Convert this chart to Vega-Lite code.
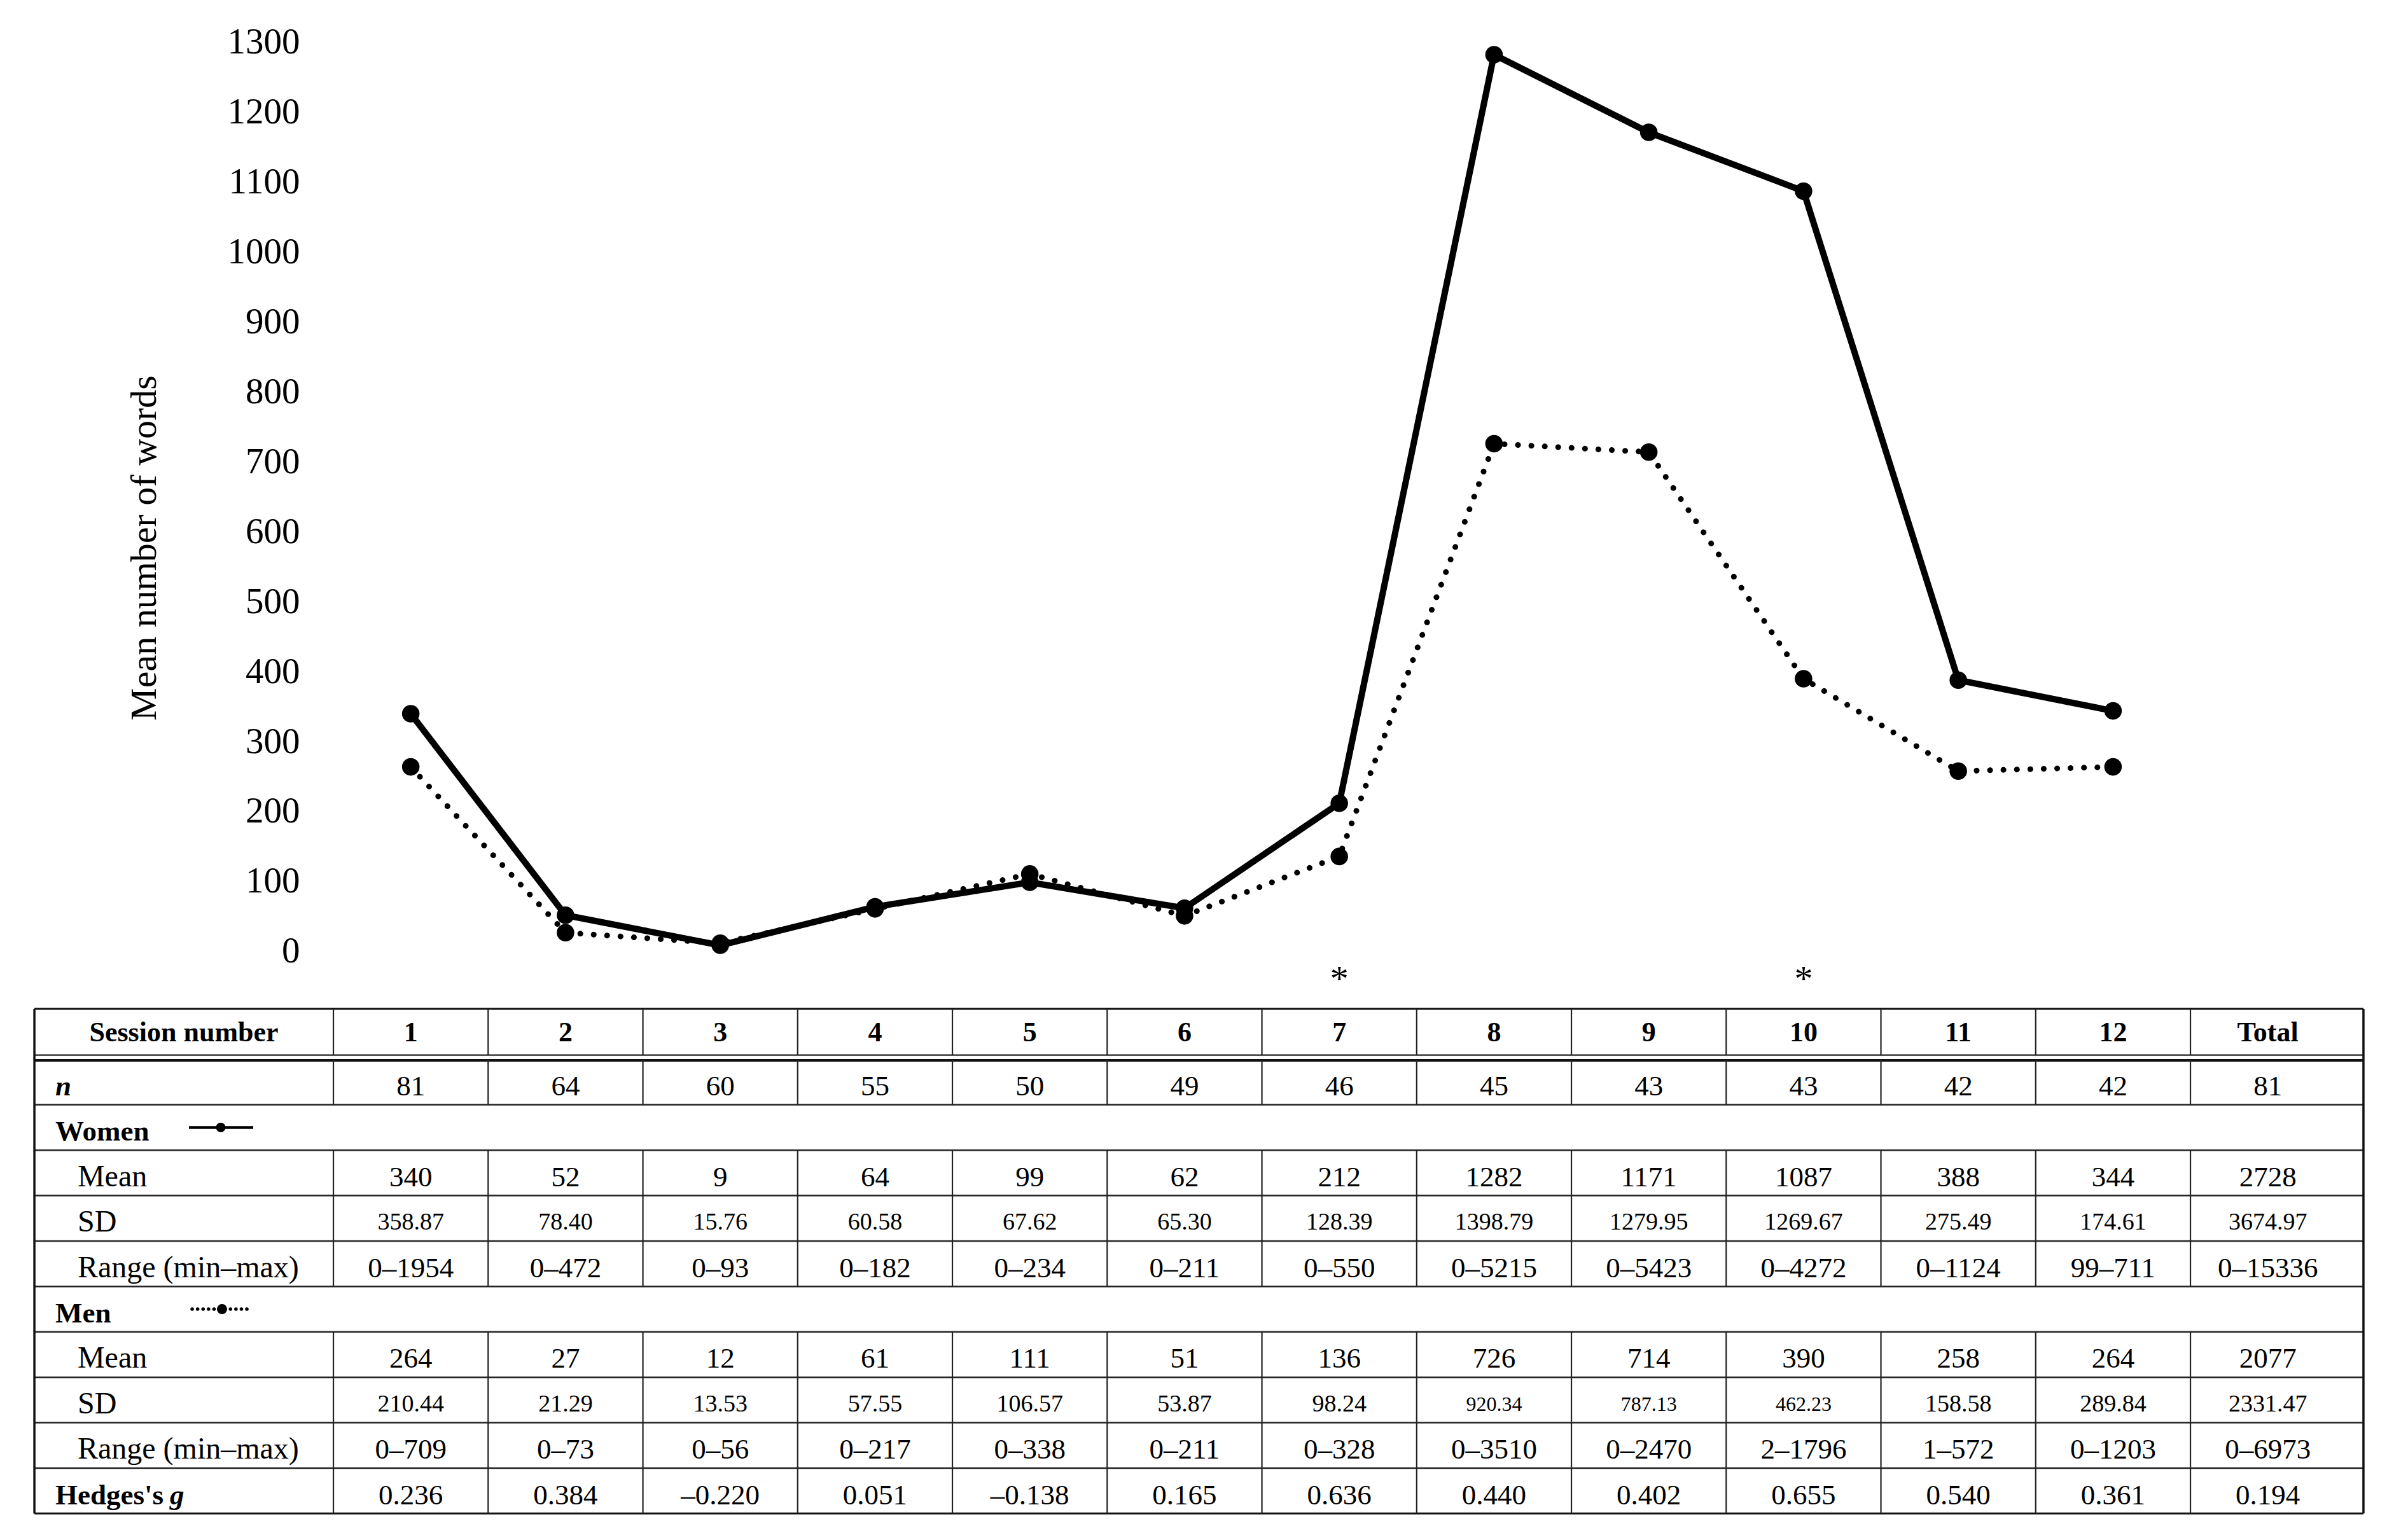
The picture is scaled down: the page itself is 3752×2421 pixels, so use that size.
{
  "$schema": "https://vega.github.io/schema/vega-lite/v6.json",
  "width": 3752,
  "height": 2421,
  "autosize": "none",
  "padding": 0,
  "background": "white",
  "config": {"view": {"stroke": null}, "font": "Liberation Serif"},
  "datasets": {
    "means": [
      {"session": 1, "sex": "Women", "mean": 340}, {"session": 2, "sex": "Women", "mean": 52}, {"session": 3, "sex": "Women", "mean": 9},
      {"session": 4, "sex": "Women", "mean": 64}, {"session": 5, "sex": "Women", "mean": 99}, {"session": 6, "sex": "Women", "mean": 62},
      {"session": 7, "sex": "Women", "mean": 212}, {"session": 8, "sex": "Women", "mean": 1282}, {"session": 9, "sex": "Women", "mean": 1171},
      {"session": 10, "sex": "Women", "mean": 1087}, {"session": 11, "sex": "Women", "mean": 388}, {"session": 12, "sex": "Women", "mean": 344},
      {"session": 1, "sex": "Men", "mean": 264}, {"session": 2, "sex": "Men", "mean": 27}, {"session": 3, "sex": "Men", "mean": 12},
      {"session": 4, "sex": "Men", "mean": 61}, {"session": 5, "sex": "Men", "mean": 111}, {"session": 6, "sex": "Men", "mean": 51},
      {"session": 7, "sex": "Men", "mean": 136}, {"session": 8, "sex": "Men", "mean": 726}, {"session": 9, "sex": "Men", "mean": 714},
      {"session": 10, "sex": "Men", "mean": 390}, {"session": 11, "sex": "Men", "mean": 258}, {"session": 12, "sex": "Men", "mean": 264}
    ],
    "stars": [{"session": 7, "label": "*"}, {"session": 10, "label": "*"}],
    "header": [
      {"c": 1, "t": "1"}, {"c": 2, "t": "2"}, {"c": 3, "t": "3"}, {"c": 4, "t": "4"}, {"c": 5, "t": "5"}, {"c": 6, "t": "6"},
      {"c": 7, "t": "7"}, {"c": 8, "t": "8"}, {"c": 9, "t": "9"}, {"c": 10, "t": "10"}, {"c": 11, "t": "11"}, {"c": 12, "t": "12"},
      {"c": 13, "t": "Total"}
    ],
    "labels": [
      {"r": 0, "t": "Session number"}, {"r": 1, "t": "n"}, {"r": 2, "t": "Women"}, {"r": 3, "t": "Mean"},
      {"r": 4, "t": "SD"}, {"r": 5, "t": "Range (min–max)"}, {"r": 6, "t": "Men"}, {"r": 7, "t": "Mean"},
      {"r": 8, "t": "SD"}, {"r": 9, "t": "Range (min–max)"}, {"r": 10, "t": "Hedges's", "sym": "g"}
    ],
    "key": [{"sex": "Women", "r": 2}, {"sex": "Men", "r": 6}],
    "cells": [
      {"r": 1, "c": 1, "t": "81"}, {"r": 1, "c": 2, "t": "64"}, {"r": 1, "c": 3, "t": "60"}, {"r": 1, "c": 4, "t": "55"}, {"r": 1, "c": 5, "t": "50"}, {"r": 1, "c": 6, "t": "49"}, {"r": 1, "c": 7, "t": "46"}, {"r": 1, "c": 8, "t": "45"}, {"r": 1, "c": 9, "t": "43"}, {"r": 1, "c": 10, "t": "43"}, {"r": 1, "c": 11, "t": "42"}, {"r": 1, "c": 12, "t": "42"}, {"r": 1, "c": 13, "t": "81"},
      {"r": 3, "c": 1, "t": "340"}, {"r": 3, "c": 2, "t": "52"}, {"r": 3, "c": 3, "t": "9"}, {"r": 3, "c": 4, "t": "64"}, {"r": 3, "c": 5, "t": "99"}, {"r": 3, "c": 6, "t": "62"}, {"r": 3, "c": 7, "t": "212"}, {"r": 3, "c": 8, "t": "1282"}, {"r": 3, "c": 9, "t": "1171"}, {"r": 3, "c": 10, "t": "1087"}, {"r": 3, "c": 11, "t": "388"}, {"r": 3, "c": 12, "t": "344"}, {"r": 3, "c": 13, "t": "2728"},
      {"r": 4, "c": 1, "t": "358.87"}, {"r": 4, "c": 2, "t": "78.40"}, {"r": 4, "c": 3, "t": "15.76"}, {"r": 4, "c": 4, "t": "60.58"}, {"r": 4, "c": 5, "t": "67.62"}, {"r": 4, "c": 6, "t": "65.30"}, {"r": 4, "c": 7, "t": "128.39"}, {"r": 4, "c": 8, "t": "1398.79"}, {"r": 4, "c": 9, "t": "1279.95"}, {"r": 4, "c": 10, "t": "1269.67"}, {"r": 4, "c": 11, "t": "275.49"}, {"r": 4, "c": 12, "t": "174.61"}, {"r": 4, "c": 13, "t": "3674.97"},
      {"r": 5, "c": 1, "t": "0–1954"}, {"r": 5, "c": 2, "t": "0–472"}, {"r": 5, "c": 3, "t": "0–93"}, {"r": 5, "c": 4, "t": "0–182"}, {"r": 5, "c": 5, "t": "0–234"}, {"r": 5, "c": 6, "t": "0–211"}, {"r": 5, "c": 7, "t": "0–550"}, {"r": 5, "c": 8, "t": "0–5215"}, {"r": 5, "c": 9, "t": "0–5423"}, {"r": 5, "c": 10, "t": "0–4272"}, {"r": 5, "c": 11, "t": "0–1124"}, {"r": 5, "c": 12, "t": "99–711"}, {"r": 5, "c": 13, "t": "0–15336"},
      {"r": 7, "c": 1, "t": "264"}, {"r": 7, "c": 2, "t": "27"}, {"r": 7, "c": 3, "t": "12"}, {"r": 7, "c": 4, "t": "61"}, {"r": 7, "c": 5, "t": "111"}, {"r": 7, "c": 6, "t": "51"}, {"r": 7, "c": 7, "t": "136"}, {"r": 7, "c": 8, "t": "726"}, {"r": 7, "c": 9, "t": "714"}, {"r": 7, "c": 10, "t": "390"}, {"r": 7, "c": 11, "t": "258"}, {"r": 7, "c": 12, "t": "264"}, {"r": 7, "c": 13, "t": "2077"},
      {"r": 8, "c": 1, "t": "210.44"}, {"r": 8, "c": 2, "t": "21.29"}, {"r": 8, "c": 3, "t": "13.53"}, {"r": 8, "c": 4, "t": "57.55"}, {"r": 8, "c": 5, "t": "106.57"}, {"r": 8, "c": 6, "t": "53.87"}, {"r": 8, "c": 7, "t": "98.24"}, {"r": 8, "c": 8, "t": "920.34"}, {"r": 8, "c": 9, "t": "787.13"}, {"r": 8, "c": 10, "t": "462.23"}, {"r": 8, "c": 11, "t": "158.58"}, {"r": 8, "c": 12, "t": "289.84"}, {"r": 8, "c": 13, "t": "2331.47"},
      {"r": 9, "c": 1, "t": "0–709"}, {"r": 9, "c": 2, "t": "0–73"}, {"r": 9, "c": 3, "t": "0–56"}, {"r": 9, "c": 4, "t": "0–217"}, {"r": 9, "c": 5, "t": "0–338"}, {"r": 9, "c": 6, "t": "0–211"}, {"r": 9, "c": 7, "t": "0–328"}, {"r": 9, "c": 8, "t": "0–3510"}, {"r": 9, "c": 9, "t": "0–2470"}, {"r": 9, "c": 10, "t": "2–1796"}, {"r": 9, "c": 11, "t": "1–572"}, {"r": 9, "c": 12, "t": "0–1203"}, {"r": 9, "c": 13, "t": "0–6973"},
      {"r": 10, "c": 1, "t": "0.236"}, {"r": 10, "c": 2, "t": "0.384"}, {"r": 10, "c": 3, "t": "–0.220"}, {"r": 10, "c": 4, "t": "0.051"}, {"r": 10, "c": 5, "t": "–0.138"}, {"r": 10, "c": 6, "t": "0.165"}, {"r": 10, "c": 7, "t": "0.636"}, {"r": 10, "c": 8, "t": "0.440"}, {"r": 10, "c": 9, "t": "0.402"}, {"r": 10, "c": 10, "t": "0.655"}, {"r": 10, "c": 11, "t": "0.540"}, {"r": 10, "c": 12, "t": "0.361"}, {"r": 10, "c": 13, "t": "0.194"}
    ]
  },
  "layer": [
    {
      "layer": [
        {
          "data": {"name": "means"},
          "transform": [{"filter": "datum.sex === 'Women'"}],
          "mark": {"type": "line", "color": "black", "strokeWidth": 10},
          "encoding": {
            "x": {"field": "session", "type": "quantitative", "scale": {"domain": [-1.6543, 13.7702], "nice": false, "zero": false}, "axis": null},
            "y": {"field": "mean", "type": "quantitative", "scale": {"domain": [-841.1, 1360.2], "nice": false, "zero": false},
              "axis": {"values": [0, 100, 200, 300, 400, 500, 600, 700, 800, 900, 1000, 1100, 1200, 1300], "format": "d", "domain": false, "ticks": false, "tickSize": 0, "grid": false,
                "labelPadding": 0, "offset": -471, "labelFont": "Liberation Serif", "labelFontSize": 57, "labelColor": "black", "labelAlign": "right", "labelBaseline": "middle",
                "title": "Mean number of words", "titleFont": "Liberation Serif", "titleFontSize": 58, "titleFontWeight": "normal", "titleColor": "black",
                "titleAngle": -90, "titleX": -244, "titleY": 861, "titleAlign": "center", "titleBaseline": "middle"}}
          }
        },
        {
          "data": {"name": "means"},
          "transform": [{"filter": "datum.sex === 'Men'"}],
          "mark": {"type": "line", "color": "black", "strokeWidth": 9, "strokeDash": [0.1, 21], "strokeCap": "round"},
          "encoding": {
            "x": {"field": "session", "type": "quantitative", "axis": null},
            "y": {"field": "mean", "type": "quantitative"}
          }
        },
        {
          "data": {"name": "means"},
          "mark": {"type": "circle", "color": "black", "size": 760, "opacity": 1},
          "encoding": {
            "x": {"field": "session", "type": "quantitative", "axis": null},
            "y": {"field": "mean", "type": "quantitative"}
          }
        },
        {
          "data": {"name": "stars"},
          "mark": {"type": "text", "font": "Liberation Serif", "fontSize": 58, "baseline": "alphabetic", "dy": 62, "color": "black"},
          "encoding": {
            "x": {"field": "session", "type": "quantitative", "axis": null},
            "y": {"datum": 0, "type": "quantitative"},
            "text": {"field": "label"}
          }
        }
      ]
    },
    {
      "layer": [
        {
          "data": {"name": "labels"},
          "transform": [{"filter": "datum.r >= 2"}],
          "mark": {"type": "rule", "color": "#222222", "strokeWidth": 2.5, "yOffset": -35.7},
          "encoding": {
            "x": {"datum": -1.432, "type": "quantitative", "axis": null},
            "x2": {"datum": 13.618},
            "y": {"field": "r", "type": "quantitative", "scale": {"domain": [-22.825, 11.083], "nice": false, "zero": false, "reverse": true}, "axis": null}
          }
        },
        {
          "data": {"name": "labels"},
          "transform": [{"filter": "datum.r === 0"}],
          "mark": {"type": "rule", "color": "#111111", "strokeWidth": 3, "yOffset": -43.7},
          "encoding": {
            "x": {"datum": -1.432, "type": "quantitative", "axis": null},
            "x2": {"datum": 13.618},
            "y": {"field": "r", "type": "quantitative", "axis": null}
          }
        },
        {
          "data": {"name": "labels"},
          "transform": [{"filter": "datum.r === 1"}],
          "mark": {"type": "rule", "color": "#222222", "strokeWidth": 2.2, "yOffset": -42.5},
          "encoding": {
            "x": {"datum": -1.432, "type": "quantitative", "axis": null},
            "x2": {"datum": 13.618},
            "y": {"field": "r", "type": "quantitative", "axis": null}
          }
        },
        {
          "data": {"name": "labels"},
          "transform": [{"filter": "datum.r === 1"}],
          "mark": {"type": "rule", "color": "#111111", "strokeWidth": 4, "yOffset": -34},
          "encoding": {
            "x": {"datum": -1.432, "type": "quantitative", "axis": null},
            "x2": {"datum": 13.618},
            "y": {"field": "r", "type": "quantitative", "axis": null}
          }
        },
        {
          "data": {"name": "labels"},
          "transform": [{"filter": "datum.r === 10"}],
          "mark": {"type": "rule", "color": "#111111", "strokeWidth": 3, "yOffset": 35.7},
          "encoding": {
            "x": {"datum": -1.432, "type": "quantitative", "axis": null},
            "x2": {"datum": 13.618},
            "y": {"field": "r", "type": "quantitative", "axis": null}
          }
        },
        {
          "data": {"name": "labels"},
          "transform": [{"filter": "datum.r === 0"}],
          "mark": {"type": "rule", "color": "#111111", "strokeWidth": 3.5, "yOffset": -43.7, "y2Offset": 35.7},
          "encoding": {
            "x": {"datum": -1.432, "type": "quantitative", "axis": null},
            "y": {"datum": 0, "type": "quantitative", "axis": null},
            "y2": {"datum": 10}
          }
        },
        {
          "data": {"name": "labels"},
          "transform": [{"filter": "datum.r === 0"}],
          "mark": {"type": "rule", "color": "#111111", "strokeWidth": 3.5, "yOffset": -43.7, "y2Offset": 35.7},
          "encoding": {
            "x": {"datum": 13.618, "type": "quantitative", "axis": null},
            "y": {"datum": 0, "type": "quantitative", "axis": null},
            "y2": {"datum": 10}
          }
        },
        {
          "data": {"name": "cells"},
          "mark": {"type": "rule", "color": "#222222", "strokeWidth": 2.2, "xOffset": -121.6, "yOffset": -35.7, "y2Offset": 35.7},
          "encoding": {
            "x": {"field": "c", "type": "quantitative", "axis": null},
            "y": {"field": "r", "type": "quantitative", "axis": null},
            "y2": {"field": "r"}
          }
        },
        {
          "data": {"name": "header"},
          "mark": {"type": "rule", "color": "#222222", "strokeWidth": 2.2, "xOffset": -121.6, "yOffset": -43.7, "y2Offset": 29.3},
          "encoding": {
            "x": {"field": "c", "type": "quantitative", "axis": null},
            "y": {"datum": 0, "type": "quantitative", "axis": null},
            "y2": {"datum": 0}
          }
        },
        {
          "data": {"name": "header"},
          "mark": {"type": "text", "font": "Liberation Serif", "fontWeight": "bold", "fontSize": 44, "align": "center", "baseline": "middle", "dy": -6, "color": "black"},
          "encoding": {
            "x": {"field": "c", "type": "quantitative", "axis": null},
            "y": {"datum": 0, "type": "quantitative", "axis": null},
            "text": {"field": "t"}
          }
        },
        {
          "data": {"name": "labels"},
          "transform": [{"filter": "datum.r === 0"}],
          "mark": {"type": "text", "font": "Liberation Serif", "fontWeight": "bold", "fontSize": 44, "align": "center", "baseline": "middle", "dy": -6, "color": "black"},
          "encoding": {
            "x": {"datum": -0.4661, "type": "quantitative", "axis": null},
            "y": {"field": "r", "type": "quantitative", "axis": null},
            "text": {"field": "t"}
          }
        },
        {
          "data": {"name": "labels"},
          "transform": [{"filter": "datum.r === 2 || datum.r === 6 || datum.r === 10"}],
          "mark": {"type": "text", "font": "Liberation Serif", "fontWeight": "bold", "fontSize": 45, "align": "left", "baseline": "middle", "dy": 7, "color": "black"},
          "encoding": {
            "x": {"datum": -1.2966, "type": "quantitative", "axis": null},
            "y": {"field": "r", "type": "quantitative", "axis": null},
            "text": {"field": "t"}
          }
        },
        {
          "data": {"name": "labels"},
          "transform": [{"filter": "datum.r === 10"}],
          "mark": {"type": "text", "font": "Liberation Serif", "fontWeight": "bold", "fontStyle": "italic", "fontSize": 45, "align": "left", "baseline": "middle", "dy": 7, "color": "black"},
          "encoding": {
            "x": {"datum": -0.5566, "type": "quantitative", "axis": null},
            "y": {"field": "r", "type": "quantitative", "axis": null},
            "text": {"field": "sym"}
          }
        },
        {
          "data": {"name": "labels"},
          "transform": [{"filter": "datum.r === 1"}],
          "mark": {"type": "text", "font": "Liberation Serif", "fontWeight": "bold", "fontStyle": "italic", "fontSize": 45, "align": "left", "baseline": "middle", "dy": 7, "color": "black"},
          "encoding": {
            "x": {"datum": -1.2966, "type": "quantitative", "axis": null},
            "y": {"field": "r", "type": "quantitative", "axis": null},
            "text": {"field": "t"}
          }
        },
        {
          "data": {"name": "labels"},
          "transform": [{"filter": "datum.r === 3 || datum.r === 4 || datum.r === 5 || datum.r === 7 || datum.r === 8 || datum.r === 9"}],
          "mark": {"type": "text", "font": "Liberation Serif", "fontSize": 48, "align": "left", "baseline": "middle", "dy": 7, "color": "black"},
          "encoding": {
            "x": {"datum": -1.153, "type": "quantitative", "axis": null},
            "y": {"field": "r", "type": "quantitative", "axis": null},
            "text": {"field": "t"}
          }
        },
        {
          "data": {"name": "cells"},
          "mark": {"type": "text", "font": "Liberation Serif", "align": "center", "baseline": "middle", "dy": 7, "color": "black"},
          "encoding": {
            "x": {"field": "c", "type": "quantitative", "axis": null},
            "y": {"field": "r", "type": "quantitative", "axis": null},
            "text": {"field": "t"},
            "size": {
              "condition": [
                {"test": "datum.t === '920.34' || datum.t === '787.13' || datum.t === '462.23'", "value": 32},
                {"test": "datum.r === 4 || datum.r === 8", "value": 38}
              ],
              "value": 45
            }
          }
        },
        {
          "data": {"name": "key"},
          "transform": [{"filter": "datum.sex === 'Women'"}],
          "mark": {"type": "rule", "color": "black", "strokeWidth": 4.5},
          "encoding": {
            "x": {"datum": -0.4334, "type": "quantitative", "axis": null},
            "x2": {"datum": -0.0181},
            "y": {"field": "r", "type": "quantitative", "axis": null}
          }
        },
        {
          "data": {"name": "key"},
          "transform": [{"filter": "datum.sex === 'Women'"}],
          "mark": {"type": "circle", "color": "black", "size": 230, "opacity": 1},
          "encoding": {
            "x": {"datum": -0.2278, "type": "quantitative", "axis": null},
            "y": {"field": "r", "type": "quantitative", "axis": null}
          }
        },
        {
          "data": {"name": "key"},
          "transform": [{"filter": "datum.sex === 'Men'"}],
          "mark": {"type": "rule", "color": "black", "strokeWidth": 5.5, "strokeDash": [0.1, 8.5], "strokeCap": "round"},
          "encoding": {
            "x": {"datum": -0.4128, "type": "quantitative", "axis": null},
            "x2": {"datum": -0.0304},
            "y": {"field": "r", "type": "quantitative", "axis": null}
          }
        },
        {
          "data": {"name": "key"},
          "transform": [{"filter": "datum.sex === 'Men'"}],
          "mark": {"type": "circle", "color": "black", "size": 255, "opacity": 1},
          "encoding": {
            "x": {"datum": -0.2196, "type": "quantitative", "axis": null},
            "y": {"field": "r", "type": "quantitative", "axis": null}
          }
        }
      ]
    }
  ],
  "resolve": {"scale": {"y": "independent"}}
}
